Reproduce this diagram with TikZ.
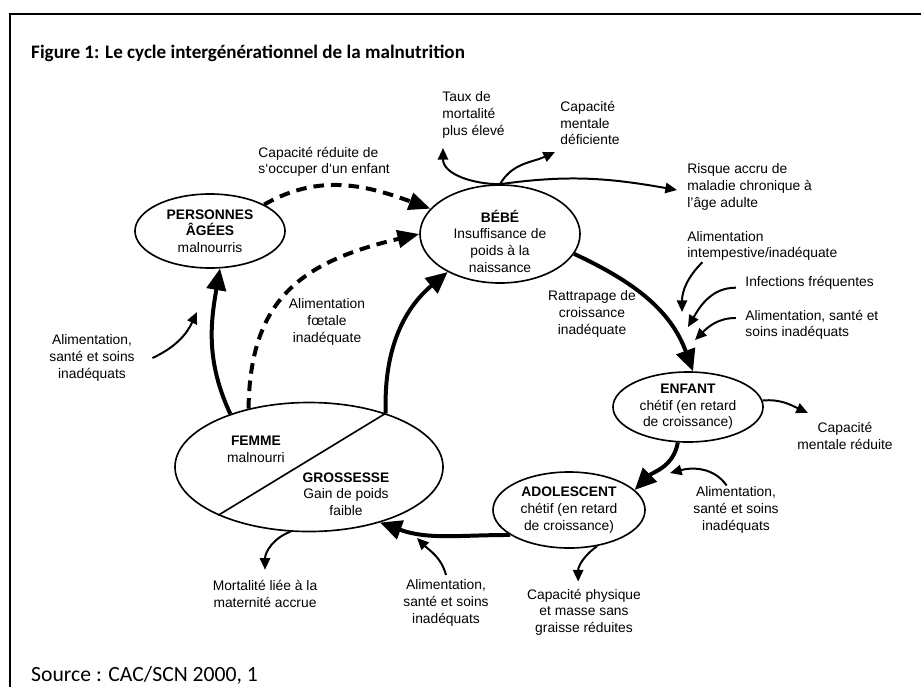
\documentclass[tikz,border=0pt]{standalone}
\usepackage{fontspec}
\setmainfont{Liberation Sans}
\newfontfamily\titrefont{Carlito}
\usetikzlibrary{shapes.geometric,arrows.meta}

\begin{document}
\begin{tikzpicture}[x=0.03cm,y=-0.03cm,
  every node/.style={font=\fontsize{11.8}{14.2}\selectfont, align=center, inner sep=1pt},
  etat/.style={draw, ellipse, line width=1.4pt, inner sep=0pt},
  gauche/.style={align=left, anchor=west},
  cycle/.style={line width=3.4pt, -{Triangle[length=6.5mm,width=5.8mm]}},
  tirets/.style={line width=3.4pt, dash pattern=on 9pt off 6pt, -{Triangle[length=6.5mm,width=5.2mm]}},
  fleche/.style={line width=1.7pt, -{Triangle[length=3.5mm,width=3.1mm]}}]
   \useasboundingbox (0,0) rectangle (921,687);
   \draw[line width=1.5pt] (10,687) -- (10,14) -- (921,14);
   \node[anchor=base west, inner sep=0pt, font=\titrefont\bfseries\fontsize{16.3}{19}\selectfont] (titre) at (31,58) {Figure 1: Le cycle intergénérationnel de la malnutrition};
   \node[anchor=base west, inner sep=0pt, font=\titrefont\fontsize{18.5}{22}\selectfont] (source) at (31,681) {Source : CAC/SCN 2000, 1};

   \node[etat, minimum width=4.5cm, minimum height=2.22cm] (agees) at (210,231) {\textbf{PERSONNES}\\\textbf{ÂGÉES}\\malnourris};
   \node[etat, minimum width=4.8cm, minimum height=2.94cm] (bebe) at (500,234) {};
   \node (bebetxt) at (500,241) {\textbf{BÉBÉ}\\Insuffisance de\\poids à la\\naissance};
   \node[etat, minimum width=4.5cm, minimum height=2.1cm] (enfant) at (688,407) {\textbf{ENFANT}\\chétif (en retard\\de croissance)};
   \node[etat, minimum width=4.56cm, minimum height=2.28cm] (ado) at (569,510) {\textbf{ADOLESCENT}\\chétif (en retard\\de croissance)};
   \node[etat, minimum width=8.04cm, minimum height=3.87cm] (femme) at (309,467) {};
   \draw[line width=1.4pt] (femme.-152) -- (femme.35);
   \node (femmetxt) at (256,449) {\textbf{FEMME}\\malnourri};
   \node (grossesse) at (346,494) {\textbf{GROSSESSE}\\Gain de poids\\faible};

   \node[gauche] (taux) at (441,115) {Taux de\\mortalité\\plus élevé};
   \node[gauche] (deficiente) at (559,123) {Capacité\\mentale\\déficiente};
   \node[gauche] (risque) at (686,187) {Risque accru de\\maladie chronique à\\l’âge adulte};
   \node[gauche] (intemp) at (686,246) {Alimentation\\intempestive/inadéquate};
   \node[gauche] (infections) at (744,283) {Infections fréquentes};
   \node[gauche] (aliEnfant) at (744,325) {Alimentation, santé et\\soins inadéquats};
   \node (rattrapage) at (592,314) {Rattrapage de\\croissance\\inadéquate};
   \node (mentale) at (845,436) {Capacité\\mentale réduite};
   \node (aliAdo) at (736,510) {Alimentation,\\santé et soins\\inadéquats};
   \node (physique) at (584,612) {Capacité physique\\et masse sans\\graisse réduites};
   \node (aliGross) at (446,603) {Alimentation,\\santé et soins\\inadéquats};
   \node (mortalite) at (265,594) {Mortalité liée à la\\maternité accrue};
   \node (aliAgees) at (92,358) {Alimentation,\\santé et soins\\inadéquats};
   \node (foetale) at (327,322) {Alimentation\\fœtale\\inadéquate};
   \node[gauche] (reduite) at (257,162) {Capacité réduite de\\s‘occuper d‘un enfant};

   \coordinate (pTaux) at (443,148);
   \coordinate (pDef) at (555,152);
   \coordinate (pRisque) at (677,190);
   \coordinate (pIntemp) at (682,312);
   \coordinate (pInf) at (688,327);
   \coordinate (pAliE) at (695,340);
   \coordinate (pMentale) at (808,413);
   \coordinate (pAliAdo) at (670,473);
   \coordinate (pAliGross) at (417,538);
   \coordinate (pAliAgees) at (197,312);

   \draw[cycle] (bebe.-15) to[out=-25,in=110] (enfant.82);
   \draw[cycle] (enfant.-106) to[out=-100,in=45] (ado.17);
   \draw[cycle] (ado.-157) to[out=180,in=-20] (femme.-38);
   \draw[cycle] (femme.146) to[out=115,in=-100] (agees.-75);
   \draw[cycle] (femme.35) to[out=92,in=-140] (bebe.-144);
   \draw[tirets] (femme.136) .. controls (250,300) and (300,262) .. (bebe.180);
   \draw[tirets] (agees.26) to[out=30,in=160] (bebe.160);

   \draw[fleche] ([xshift=14pt]aliAgees.east) to[out=25,in=-115] (pAliAgees);
   \draw[fleche] (bebe.north) to[out=180,in=-90] (pTaux);
   \draw[fleche] (bebe.north) to[out=60,in=205] (pDef);
   \draw[fleche] (bebe.north) to[out=8,in=170] (pRisque);
   \draw[fleche] ([xshift=14pt]intemp.south west) to[out=225,in=90] (pIntemp);
   \draw[fleche] ([xshift=-7pt,yshift=-4pt]infections.west) to[out=180,in=60] (pInf);
   \draw[fleche] ([xshift=-7pt,yshift=6pt]aliEnfant.west) to[out=180,in=45] (pAliE);
   \draw[fleche] (enfant.5) to[out=5,in=155] (pMentale);
   \draw[fleche] ([xshift=-8pt]aliAdo.north) to[out=125,in=15] (pAliAdo);
   \draw[fleche] (ado.-52) to[out=215,in=90] ([xshift=-5pt,yshift=5pt]physique.north);
   \draw[fleche] ([yshift=3pt]aliGross.north) to[out=105,in=-45] (pAliGross);
   \draw[fleche] (femme.-106) to[out=200,in=90] ([yshift=8pt]mortalite.north);
\end{tikzpicture}
\end{document}
